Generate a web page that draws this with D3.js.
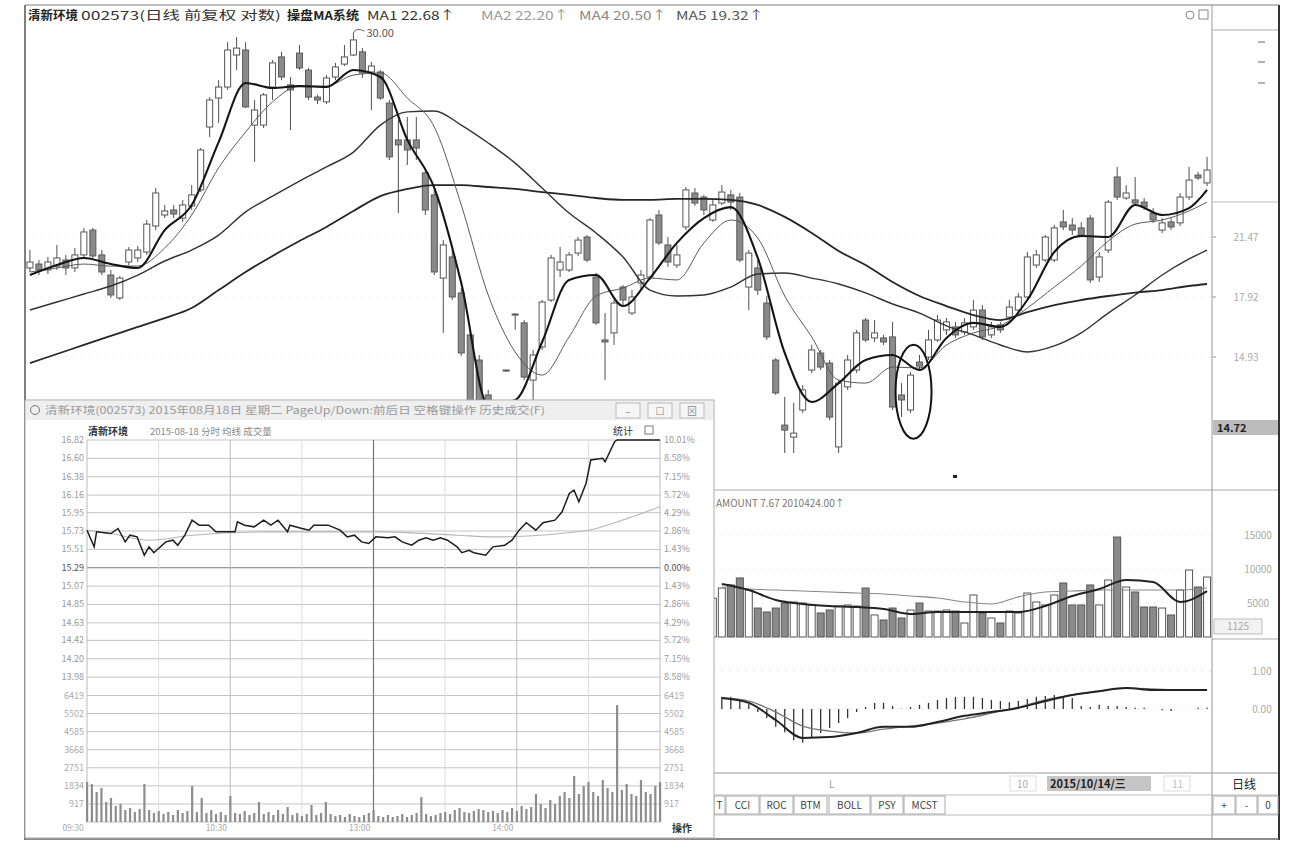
<!DOCTYPE html>
<html><head><meta charset="utf-8">
<script src="https://cdnjs.cloudflare.com/ajax/libs/d3/7.8.5/d3.min.js"></script>
<style>
html,body{margin:0;padding:0;background:#fff;}
svg{display:block;font-family:"Noto Sans CJK SC","Noto Sans","DejaVu Sans",sans-serif;}
</style></head><body>
<svg id="chart" width="1296" height="856"></svg>
<script>
// ===== daily candles (清新环境 002573) =====
const openP=[19.64,19.87,19.52,19.75,20.11,19.64,20.41,21.76,20.41,19.22,17.87,19.99,20.23,20.58,21.93,22.39,22.60,22.26,22.77,23.44,26.07,27.28,27.74,29.08,29.29,26.15,26.15,27.74,29.00,27.83,29.16,28.45,27.32,27.12,28.16,28.70,29.08,29.21,28.37,28.37,27.07,25.53,25.53,25.53,24.15,23.23,19.04,20.29,18.16,16.03,14.78,13.04,11.79,14.28,17.07,16.63,13.78,15.43,17.77,19.52,19.52,20.52,21.47,19.10,15.78,16.13,18.51,17.12,18.75,19.10,22.39,21.00,19.81,21.89,23.31,23.14,22.18,22.89,23.23,23.14,18.51,19.64,17.62,14.78,11.54,10.94,12.29,14.28,15.13,14.63,10.45,13.44,14.28,16.77,15.88,15.88,15.93,13.04,12.29,14.68,14.93,15.78,16.28,16.43,16.18,16.43,17.27,16.03,16.53,16.92,17.27,17.92,19.81,20.11,20.11,22.10,21.97,21.85,22.26,19.10,20.70,23.98,23.10,23.02,22.93,22.47,21.76,22.10,22.06,23.14,24.06,23.73];
const closeP=[19.99,19.52,19.99,20.23,19.64,20.41,21.68,20.35,19.40,18.04,19.04,20.70,20.70,22.01,23.31,22.56,22.43,22.81,23.23,25.11,27.20,27.74,29.29,29.37,26.91,26.78,27.41,28.75,28.16,27.62,28.54,27.32,27.20,28.12,28.58,29.00,29.71,28.33,28.62,27.28,24.82,25.32,25.11,25.19,22.60,19.40,21.00,17.92,15.13,12.64,12.79,11.54,10.79,14.25,17.02,13.93,15.03,17.67,20.23,19.99,20.41,21.29,20.11,16.63,15.68,17.62,17.77,17.92,19.22,22.18,21.12,19.99,20.41,23.44,22.89,22.60,22.81,23.35,22.93,20.11,20.52,18.33,15.93,13.14,11.29,11.14,13.29,15.28,14.43,11.94,13.63,14.78,16.13,15.78,16.13,15.68,12.44,12.79,14.03,14.48,15.78,16.77,16.68,16.03,16.63,17.27,15.93,16.43,16.28,17.42,17.92,20.29,20.41,21.47,21.85,21.89,21.76,21.55,18.93,20.29,22.93,23.14,23.31,22.89,22.72,22.18,22.06,21.89,23.14,23.85,23.94,24.27];
const highP=[20.70,20.11,20.29,21.00,20.41,20.82,21.85,21.85,20.70,19.52,19.16,20.88,20.94,22.18,23.52,22.81,22.81,23.02,23.64,25.19,27.32,28.03,29.62,29.83,29.62,27.20,27.49,28.87,29.21,28.16,29.50,28.54,27.41,28.24,28.75,29.50,30.00,29.37,28.79,28.45,27.20,26.36,26.49,26.49,24.36,23.44,21.29,20.70,18.45,16.28,15.03,13.29,12.04,14.30,17.12,16.77,15.28,17.77,20.41,20.88,20.58,21.47,21.55,19.34,17.12,17.77,18.63,18.33,19.52,22.26,22.60,21.47,21.00,23.56,23.52,23.23,23.02,23.64,23.44,23.31,20.70,20.11,17.98,14.88,12.94,12.64,13.54,15.53,15.28,14.78,13.78,15.03,16.28,16.87,16.77,16.03,16.68,13.63,14.18,15.03,16.28,17.02,16.87,16.68,16.87,17.77,17.52,16.68,16.68,17.77,18.16,20.58,20.70,21.55,21.97,22.60,22.26,22.10,22.39,20.58,23.02,24.40,23.64,23.98,23.10,22.68,22.26,22.26,23.31,24.40,24.19,24.82];
const lowP=[19.40,19.22,19.28,19.52,19.22,19.40,20.23,20.23,19.22,17.87,17.77,19.81,19.99,20.41,21.76,22.26,22.26,22.10,22.60,23.35,25.65,26.24,27.62,28.45,26.86,24.61,26.03,27.20,28.03,25.94,28.45,27.20,27.03,27.03,28.03,28.62,29.04,28.12,26.78,27.20,24.69,22.47,24.48,24.69,22.39,19.22,16.13,17.77,14.98,12.29,12.04,10.79,10.30,14.20,16.28,13.78,12.79,15.28,17.67,19.10,19.40,20.35,19.99,16.53,13.78,15.53,17.52,17.02,18.33,18.93,21.00,19.70,19.64,21.76,22.77,22.39,22.10,22.81,22.60,19.99,17.27,18.04,15.78,13.04,10.15,10.15,12.14,14.13,14.28,11.79,10.15,13.29,14.13,15.68,15.68,15.53,12.29,11.94,12.14,14.28,14.78,15.68,16.03,15.88,16.03,16.28,15.78,15.88,16.13,16.77,17.12,17.77,19.64,19.99,19.99,21.76,21.55,21.47,18.75,18.81,20.52,23.02,23.02,22.81,22.60,22.06,21.64,21.76,21.93,23.02,23.85,23.60];
const volume=[5200,4800,5100,6000,5400,5800,7200,7600,6800,7400,6200,5600,5900,7800,9200,6400,5800,6100,6900,9800,11200,9600,10800,8900,10400,9900,8200,8800,7600,7200,8100,7400,6600,7000,6800,7900,8600,7700,6900,7300,9400,8300,7100,6800,8700,9900,10100,8800,9600,7200,6400,5800,5200,6100,4700,7600,8300,8900,9200,7400,6800,7100,6900,7800,6200,6600,5900,6300,6100,8400,7700,6500,5800,8100,6900,6200,5700,
7200,7650,8680,6910,4260,3680,4260,5000,5150,5000,4710,3530,3970,4560,4710,4560,7200,3240,2500,4260,2790,3970,5000,3820,3820,3970,3820,2060,6180,3530,2790,2060,3820,3530,6470,5150,4710,6180,7940,4710,4710,7650,4710,8380,14700,7350,6620,4410,4410,4260,3240,6910,9850,7350,8820];
// moving averages read at these candle indices
const maIndex=[0,3,6,9,12,15,18,21,24,27,30,33,36,39,42,45,48,51,54,57,60,63,66,69,72,75,78,81,84,87,90,93,96,99,102,105,108,111,114,117,120,123,126,129,131];
const ma1=[19.22,19.81,20.23,19.87,19.64,21.76,22.81,25.44,27.91,27.70,27.78,27.74,28.45,28.16,25.53,23.52,18.75,12.54,12.79,15.68,18.93,19.22,17.47,19.04,21.12,22.26,22.72,20.23,15.13,12.69,13.63,14.78,15.03,14.28,15.88,16.63,16.43,17.77,20.58,21.51,21.47,22.81,22.39,22.68,23.44];
const ma2=[19.40,19.64,19.87,19.75,19.75,20.82,22.39,24.36,25.86,27.12,27.78,27.78,28.24,28.33,27.28,26.07,22.81,18.04,15.18,14.03,15.93,17.98,18.45,19.04,18.93,21.12,22.18,21.41,17.98,15.93,13.78,13.63,14.43,14.38,15.53,16.13,16.48,17.37,18.51,19.75,21.23,22.01,22.18,22.56,22.93];
const ma4=[17.27,17.67,18.10,18.57,19.22,20.05,20.70,21.55,22.52,23.18,23.81,24.40,25.02,26.15,26.70,26.74,26.15,25.40,24.56,23.52,22.47,21.64,20.29,18.33,17.98,18.04,18.51,19.28,19.34,19.04,18.69,18.16,17.57,17.12,16.48,16.03,15.53,15.18,15.48,16.13,17.12,18.04,19.22,20.17,20.70];
const ma5=[14.63,15.08,15.53,15.98,16.43,16.87,17.37,18.33,19.40,20.35,21.23,21.89,22.56,23.18,23.48,23.64,23.64,23.56,23.48,23.35,23.23,23.10,23.02,23.02,23.06,23.06,23.02,22.81,22.31,21.64,20.64,19.81,18.81,17.98,17.47,17.02,16.77,17.17,17.52,17.77,17.98,18.18,18.33,18.57,18.69];
const volMaIndex=[77,80,83,86,89,92,95,98,101,104,107,110,113,116,119,122,125,128,131];
const volMa1=[7790,6910,5440,4850,4560,4410,4120,3380,3680,3680,3680,3680,4560,6030,7060,8380,8090,5150,6760];
const volMa2=[7350,7060,6910,6760,6620,6470,6320,6030,5740,5150,4850,5900,6620,6760,6910,6910,6910,6910,7210];
const macdStart=77;
const macdHist=[0.32,0.32,0.24,0.13,-0.08,-0.24,-0.47,-0.61,-0.82,-0.89,-0.74,-0.63,-0.50,-0.37,-0.24,-0.08,0.05,0.16,0.16,0.08,0.01,0.05,0.11,0.16,0.24,0.29,0.32,0.32,0.32,0.29,0.24,0.21,0.18,0.21,0.26,0.32,0.34,0.37,0.34,0.29,0.08,0.05,0.11,0.08,0.08,0.05,0.03,0.03,0.00,-0.03,-0.05,0.00,0.00,0.03,0.03];
const dif=[0.29,0.16,-0.29,-0.76,-0.74,-0.63,-0.47,-0.47,-0.34,-0.18,-0.08,0.03,0.21,0.37,0.47,0.55,0.50,0.50,0.50];
const dea=[0.29,0.21,-0.08,-0.45,-0.58,-0.63,-0.53,-0.45,-0.37,-0.26,-0.11,0.05,0.24,0.37,0.47,0.55,0.53,0.50,0.50];
const priceTicks=[21.47,17.92,14.93];
const priceTickLabels=["21.47","17.92","14.93"];
const volTicks=[15000,10000,5000];
const macdTicks=[1,0];
const macdTickLabels=["1.00","0.00"];
const peakLabel="30.00";
// ===== intraday window (2015-08-18) =====
const intraT=[0,3,4,10,13,16,18,21,24,26,28,33,36,38,41,44,47,51,54,62,63,66,70,74,77,80,84,85,90,93,95,101,106,109,112,115,118,121,126,129,132,136,139,142,145,148,151,155,157,160,162,167,170,175,178,181,184,188,191,196,199,202,204,206,209,211,216,217,221,222,240];
const intraP=[15.74,15.54,15.72,15.70,15.76,15.60,15.68,15.66,15.44,15.54,15.47,15.60,15.62,15.56,15.68,15.86,15.80,15.80,15.72,15.72,15.84,15.80,15.78,15.86,15.80,15.86,15.72,15.80,15.76,15.74,15.80,15.80,15.74,15.66,15.68,15.60,15.58,15.66,15.65,15.66,15.60,15.56,15.62,15.65,15.62,15.65,15.62,15.54,15.47,15.50,15.47,15.44,15.54,15.56,15.62,15.74,15.83,15.74,15.83,15.86,15.96,16.18,16.22,16.08,16.30,16.58,16.60,16.56,16.80,16.82,16.82];
const avgT=[0,10,26,44,76,123,155,170,210,221,240];
const avgP=[15.74,15.70,15.62,15.68,15.72,15.72,15.68,15.66,15.74,15.83,16.02];
const intraVol=[2028,1927,1521,1724,1014,1217,811,913,608,710,507,659,1927,608,456,558,406,507,355,608,456,558,1825,507,1217,456,608,406,507,355,1318,456,406,558,355,456,1014,406,507,355,608,406,761,355,456,304,406,862,355,456,1014,406,304,355,254,406,304,254,355,456,608,304,254,355,254,304,406,254,355,456,1268,406,304,355,456,507,406,608,710,507,456,558,659,608,507,558,456,608,507,710,558,811,659,761,1420,913,710,1115,913,1318,1521,1217,2332,1420,1825,2028,1521,1318,2129,1724,1521,5932,1622,1927,1420,1318,2129,1521,1420,1825,2028];
const intraPriceTicks=[16.82,16.60,16.38,16.16,15.95,15.73,15.51,15.29,15.07,14.85,14.63,14.42,14.20,13.98];
const intraPctLabels=["10.01%","8.58%","7.15%","5.72%","4.29%","2.86%","1.43%","0.00%","1.43%","2.86%","4.29%","5.72%","7.15%","8.58%"];
const intraVolTicks=[6419,5502,4585,3668,2751,1834,917];
const intraTimeTicks=[0,60,120,180];
const intraTimeLabels=["09:30","10:30","13:00","14:00"];

const svg=d3.select('#chart');
svg.append('rect').attr('width',1296).attr('height',856).attr('fill','#fff');
const n=openP.length;
const xs=d3.scaleBand().domain(d3.range(n)).range([25.5,1211.5]).paddingInner(0.33).paddingOuter(0.16);
const cxi=i=>xs(i)+xs.bandwidth()/2;
const ys=d3.scaleLinear().domain([10,14.93,17.92,21.47,30]).range([456,357,297,237,33]);

// clips
const defs=svg.append('defs');
defs.append('clipPath').attr('id','mainClip').append('rect').attr('x',25).attr('y',27).attr('width',1187).attr('height',463);
defs.append('clipPath').attr('id','volClip').append('rect').attr('x',25).attr('y',490).attr('width',1187).attr('height',149);
defs.append('clipPath').attr('id','macdClip').append('rect').attr('x',25).attr('y',640).attr('width',1187).attr('height',132);

// ---- main price panel ----
const main=svg.append('g').attr('clip-path','url(#mainClip)');
main.selectAll('line.grid').data(priceTicks).enter().append('line')
  .attr('x1',25).attr('x2',1212).attr('y1',d=>ys(d)).attr('y2',d=>ys(d))
  .attr('stroke','#d6d6d6').attr('stroke-dasharray','1,7');
const candles=d3.range(n).map(i=>({i,o:openP[i],c:closeP[i],h:highP[i],l:lowP[i]}));
const cg=main.append('g');
cg.selectAll('line.wick').data(candles).enter().append('line')
  .attr('x1',d=>cxi(d.i)).attr('x2',d=>cxi(d.i)).attr('y1',d=>ys(d.h)).attr('y2',d=>ys(d.l))
  .attr('stroke','#505050').attr('stroke-width',1);
cg.selectAll('rect.body').data(candles).enter().append('rect')
  .attr('x',d=>xs(d.i)).attr('width',xs.bandwidth())
  .attr('y',d=>ys(Math.max(d.o,d.c))).attr('height',d=>Math.max(1,Math.abs(ys(d.o)-ys(d.c))))
  .attr('fill',d=>d.c>=d.o?'#fff':'#8a8a8a').attr('stroke',d=>d.c>=d.o?'#555':'#5a5a5a').attr('stroke-width',1);
function maLine(arr,idx,scale){
  return d3.line().x((d,k)=>cxi(idx[k])).y(d=>scale(d)).curve(d3.curveMonotoneX)(arr);
}
[[ma5,'#262626',1.8],[ma4,'#333',1.4],[ma2,'#5a5a5a',1],[ma1,'#151515',2.1]].forEach(([arr,col,w])=>{
  main.append('path').attr('d',maLine(arr,maIndex,ys)).attr('fill','none').attr('stroke',col).attr('stroke-width',w);
});
// peak annotation
const pk=d3.maxIndex(highP);
const px0=cxi(pk), py0=ys(highP[pk]);
main.append('path').attr('d',`M${px0},${py0} Q${px0+2},${py0-6} ${px0+11},${py0-2}`).attr('fill','none').attr('stroke','#555').attr('stroke-width',0.9);
main.append('text').attr('x',px0+13).attr('y',py0+4).attr('font-size',11).attr('fill','#555').text(peakLabel);
// ellipse marker
main.append('ellipse').attr('cx',cxi(98)+3).attr('cy',ys(13.2)).attr('rx',18).attr('ry',47)
  .attr('fill','none').attr('stroke','#111').attr('stroke-width',2);
svg.append('rect').attr('x',953).attr('y',475).attr('width',4).attr('height',3).attr('fill','#222');

// ---- volume panel ----
const vs=d3.scaleLinear().domain([0,15000]).range([637,535]);
const vg=svg.append('g').attr('clip-path','url(#volClip)');
vg.selectAll('line.vgrid').data(volTicks).enter().append('line')
  .attr('x1',714).attr('x2',1212).attr('y1',d=>vs(d)).attr('y2',d=>vs(d)).attr('stroke','#d8d8d8').attr('stroke-dasharray','1,7');
vg.selectAll('rect.v').data(candles).enter().append('rect')
  .attr('x',d=>cxi(d.i)-3.5).attr('width',7).attr('y',d=>vs(volume[d.i])).attr('height',d=>637-vs(volume[d.i]))
  .attr('fill',d=>d.c>=d.o?'#fff':'#8a8a8a').attr('stroke','#555').attr('stroke-width',1);
vg.append('path').attr('d',maLine(volMa2,volMaIndex,vs)).attr('fill','none').attr('stroke','#888').attr('stroke-width',1.1);
vg.append('path').attr('d',maLine(volMa1,volMaIndex,vs)).attr('fill','none').attr('stroke','#222').attr('stroke-width',2);
svg.append('text').attr('x',716).attr('y',507).attr('font-size',10).attr('fill','#777').text('AMOUNT 7.67 2010424.00↑');

// ---- MACD panel ----
const ms=d3.scaleLinear().domain([0,1]).range([709,671]);
const mg=svg.append('g').attr('clip-path','url(#macdClip)');
mg.selectAll('line.mgrid').data(macdTicks).enter().append('line')
  .attr('x1',714).attr('x2',1212).attr('y1',d=>ms(d)).attr('y2',d=>ms(d)).attr('stroke','#d0d0d0').attr('stroke-dasharray','1,7');
mg.selectAll('line.h').data(macdHist).enter().append('line')
  .attr('x1',(d,k)=>cxi(macdStart+k)).attr('x2',(d,k)=>cxi(macdStart+k))
  .attr('y1',ms(0)).attr('y2',d=>ms(d)).attr('stroke','#333').attr('stroke-width',1.3);
mg.append('path').attr('d',maLine(dea,volMaIndex,ms)).attr('fill','none').attr('stroke','#777').attr('stroke-width',1.3);
mg.append('path').attr('d',maLine(dif,volMaIndex,ms)).attr('fill','none').attr('stroke','#222').attr('stroke-width',2);

// ---- frame / separators ----
const line=(x1,y1,x2,y2,c,w)=>svg.append('line').attr('x1',x1).attr('y1',y1).attr('x2',x2).attr('y2',y2).attr('stroke',c).attr('stroke-width',w||1);
line(25,5,1279,5,'#aaa',1.5);
line(714,490,1278,490,'#aaa');
line(1212,639,1278,639,'#aaa');
line(714,773,1278,773,'#999');
line(714,795,1278,795,'#bbb');
line(714,815,1278,815,'#bbb');
line(1212,5,1212,838,'#999');
line(1212,30,1278,30,'#aaa');
line(1212,202,1278,202,'#bbb');
[42,62,83].forEach(y=>line(1258,y,1265,y,'#666'));
line(25,5,25,840,'#555',1.5);
line(1279,5,1279,840,'#333',2);
line(25,839,1279,839,'#666',1.5);

// title
const tt=svg.append('g').attr('font-size',12);
const tpart=(x,txt,col,len)=>{const t=tt.append('text').attr('x',x).attr('y',20).attr('fill',col).text(txt); if(len) t.attr('textLength',len).attr('lengthAdjust','spacingAndGlyphs'); return t;};
tpart(28,'清新环境','#222',50).attr('font-weight','bold');
tpart(81,'002573(日线 前复权 对数)','#333',200);
tpart(287,'操盘MA系统','#222',72).attr('font-weight','bold');
tpart(367,'MA1  22.68↑','#333',88);
tpart(481,'MA2  22.20↑','#999',88);
tpart(579,'MA4  20.50↑','#888',88);
tpart(676,'MA5  19.32↑','#555',88);
svg.append('circle').attr('cx',1190).attr('cy',15).attr('r',4).attr('fill','none').attr('stroke','#888');
svg.append('rect').attr('x',1199).attr('y',10).attr('width',9).attr('height',9).attr('fill','none').attr('stroke','#888');

// right axis labels
svg.selectAll('text.pt').data(priceTicks).enter().append('text')
  .attr('x',1246).attr('y',d=>ys(d)+4).attr('font-size',10).attr('fill','#aaa').attr('text-anchor','middle')
  .text((d,k)=>priceTickLabels[k]);
priceTicks.forEach(v=>line(1212,ys(v),1216,ys(v),'#999'));
svg.append('rect').attr('x',1213).attr('y',420).attr('width',65).attr('height',15).attr('fill','#bcbcbc');
svg.append('text').attr('x',1217).attr('y',432).attr('font-size',11).attr('font-weight','bold').attr('fill','#222').text('14.72');
svg.selectAll('text.vt').data(volTicks).enter().append('text')
  .attr('x',1258).attr('y',d=>vs(d)+4).attr('font-size',10).attr('fill','#aaa').attr('text-anchor','middle').text(d=>d);
svg.append('rect').attr('x',1214).attr('y',619).attr('width',48).attr('height',15).attr('fill','#f2f2f2').attr('stroke','#bbb');
svg.append('text').attr('x',1238).attr('y',630).attr('font-size',10).attr('fill','#aaa').attr('text-anchor','middle').text('1125');
svg.selectAll('text.mt').data(macdTicks).enter().append('text')
  .attr('x',1262).attr('y',d=>ms(d)+4).attr('font-size',10).attr('fill','#aaa').attr('text-anchor','middle').text((d,k)=>macdTickLabels[k]);

// bottom date row
svg.append('text').attr('x',829).attr('y',788).attr('font-size',10).attr('fill','#999').text('L');
svg.append('rect').attr('x',1010).attr('y',776).attr('width',26).attr('height',15).attr('fill','none').attr('stroke','#ddd');
svg.append('text').attr('x',1017).attr('y',788).attr('font-size',10).attr('fill','#aaa').text('10');
svg.append('rect').attr('x',1047).attr('y',776).attr('width',104).attr('height',15).attr('fill','#c6c6c6');
svg.append('text').attr('x',1050).attr('y',788).attr('font-size',11).attr('font-weight','bold').attr('fill','#222').text('2015/10/14/三');
svg.append('rect').attr('x',1164).attr('y',776).attr('width',26).attr('height',15).attr('fill','none').attr('stroke','#ddd');
svg.append('text').attr('x',1172).attr('y',788).attr('font-size',10).attr('fill','#bbb').text('11');
svg.append('text').attr('x',1232).attr('y',789).attr('font-size',12).attr('fill','#222').text('日线');
const tabs=[['T',714,725],['CCI',726,759],['ROC',760,793],['BTM',794,827],['BOLL',829,870],['PSY',871,903],['MCST',904,945]];
tabs.forEach(([t,a,b])=>{
  svg.append('rect').attr('x',a).attr('y',796).attr('width',b-a).attr('height',18).attr('fill','#fff').attr('stroke','#aaa');
  svg.append('text').attr('x',(a+b)/2).attr('y',809).attr('text-anchor','middle').attr('font-size',10).attr('fill','#444').text(t);
});
[['+',1213,1235],['-',1236,1257],['0',1258,1278]].forEach(([t,a,b])=>{
  svg.append('rect').attr('x',a).attr('y',796).attr('width',b-a).attr('height',18).attr('fill','#fff').attr('stroke','#aaa');
  svg.append('text').attr('x',(a+b)/2).attr('y',809).attr('text-anchor','middle').attr('font-size',10).attr('fill','#444').text(t);
});

// ===== intraday inset window =====
const ins=svg.append('g');
ins.append('rect').attr('x',25).attr('y',400).attr('width',689).attr('height',438).attr('fill','#fff').attr('stroke','#aaa');
ins.append('rect').attr('x',26).attr('y',401).attr('width',687).attr('height',19).attr('fill','#efefef');
ins.append('circle').attr('cx',35).attr('cy',410).attr('r',4.5).attr('fill','none').attr('stroke','#777');
ins.append('text').attr('x',45).attr('y',414).attr('font-size',10).attr('fill','#999')
  .attr('textLength',500).attr('lengthAdjust','spacingAndGlyphs')
  .text('清新环境(002573) 2015年08月18日 星期二 PageUp/Down:前后日 空格键操作 历史成交(F)');
[['–',616],['☐',648],['⊠',680]].forEach(([t,x])=>{
  ins.append('rect').attr('x',x).attr('y',403).attr('width',24).attr('height',15).attr('fill','#f6f6f6').attr('stroke','#bbb');
  ins.append('text').attr('x',x+12).attr('y',415).attr('text-anchor','middle').attr('font-size',10).attr('fill','#888').text(t);
});
ins.append('text').attr('x',88).attr('y',435).attr('font-size',10).attr('font-weight','bold').attr('fill','#333').text('清新环境');
ins.append('text').attr('x',150).attr('y',435).attr('font-size',9.5).attr('fill','#888').text('2015-08-18 分时 均线 成交量');
ins.append('text').attr('x',613).attr('y',435).attr('font-size',10).attr('fill','#333').text('统计');
ins.append('rect').attr('x',645).attr('y',426).attr('width',8).attr('height',8).attr('fill','none').attr('stroke','#777');

const ix=d3.scaleLinear().domain([0,240]).range([87,660]);
const ip=d3.scaleLinear().domain([13.76,16.82]).range([695.5,440]);
const iv=d3.scaleLinear().domain([0,6419]).range([822,695.5]);
// grid
ins.selectAll('line.ipg').data(intraPriceTicks.concat([13.76])).enter().append('line')
  .attr('x1',87).attr('x2',660).attr('y1',d=>ip(d)).attr('y2',d=>ip(d))
  .attr('stroke',d=>d===15.29?'#777':'#c4c4c4').attr('stroke-width',d=>d===15.29?1.2:1);
ins.selectAll('line.ivg').data(intraVolTicks.concat([0])).enter().append('line')
  .attr('x1',87).attr('x2',660).attr('y1',d=>iv(d)).attr('y2',d=>iv(d)).attr('stroke','#c4c4c4');
ins.selectAll('line.itg').data(d3.range(0,241,30)).enter().append('line')
  .attr('x1',d=>ix(d)).attr('x2',d=>ix(d)).attr('y1',440).attr('y2',822)
  .attr('stroke',d=>d===120?'#777':(d%60===0?'#bbb':'#ddd')).attr('stroke-width',d=>d===120?1.2:1);
// labels
ins.selectAll('text.ipl').data(intraPriceTicks).enter().append('text')
  .attr('x',84).attr('y',d=>ip(d)+3).attr('text-anchor','end').attr('font-size',9)
  .attr('fill',d=>d===15.29?'#555':'#9a9a9a').text(d=>d.toFixed(2));
ins.selectAll('text.ipr').data(intraPriceTicks).enter().append('text')
  .attr('x',664).attr('y',d=>ip(d)+3).attr('font-size',9)
  .attr('fill',d=>d===15.29?'#555':'#9a9a9a').text((d,k)=>intraPctLabels[k]);
ins.selectAll('text.ivl').data(intraVolTicks).enter().append('text')
  .attr('x',84).attr('y',d=>iv(d)+3).attr('text-anchor','end').attr('font-size',9).attr('fill','#aaa').text(d=>d);
ins.selectAll('text.ivr').data(intraVolTicks).enter().append('text')
  .attr('x',664).attr('y',d=>iv(d)+3).attr('font-size',9).attr('fill','#aaa').text(d=>d);
ins.selectAll('text.itl').data(intraTimeTicks).enter().append('text')
  .attr('x',d=>ix(d)-14).attr('y',831).attr('text-anchor','middle').attr('font-size',8.5).attr('fill','#aaa')
  .text((d,k)=>intraTimeLabels[k]);
ins.append('text').attr('x',672).attr('y',832).attr('font-size',10).attr('font-weight','bold').attr('fill','#333').text('操作');
// volume bars
ins.selectAll('rect.iv').data(intraVol).enter().append('rect')
  .attr('x',(d,k)=>ix(k*2)-1).attr('width',2.2).attr('y',d=>iv(d)).attr('height',d=>822-iv(d)).attr('fill','#8d8d8d');
// average + price lines
ins.append('path').attr('d',d3.line().x((d,k)=>ix(avgT[k])).y(d=>ip(d)).curve(d3.curveMonotoneX)(avgP))
  .attr('fill','none').attr('stroke','#b5b5b5').attr('stroke-width',1.1);
ins.append('path').attr('d',d3.line().x((d,k)=>ix(intraT[k])).y(d=>ip(d))(intraP))
  .attr('fill','none').attr('stroke','#1e1e1e').attr('stroke-width',1.5);
</script></body></html>
